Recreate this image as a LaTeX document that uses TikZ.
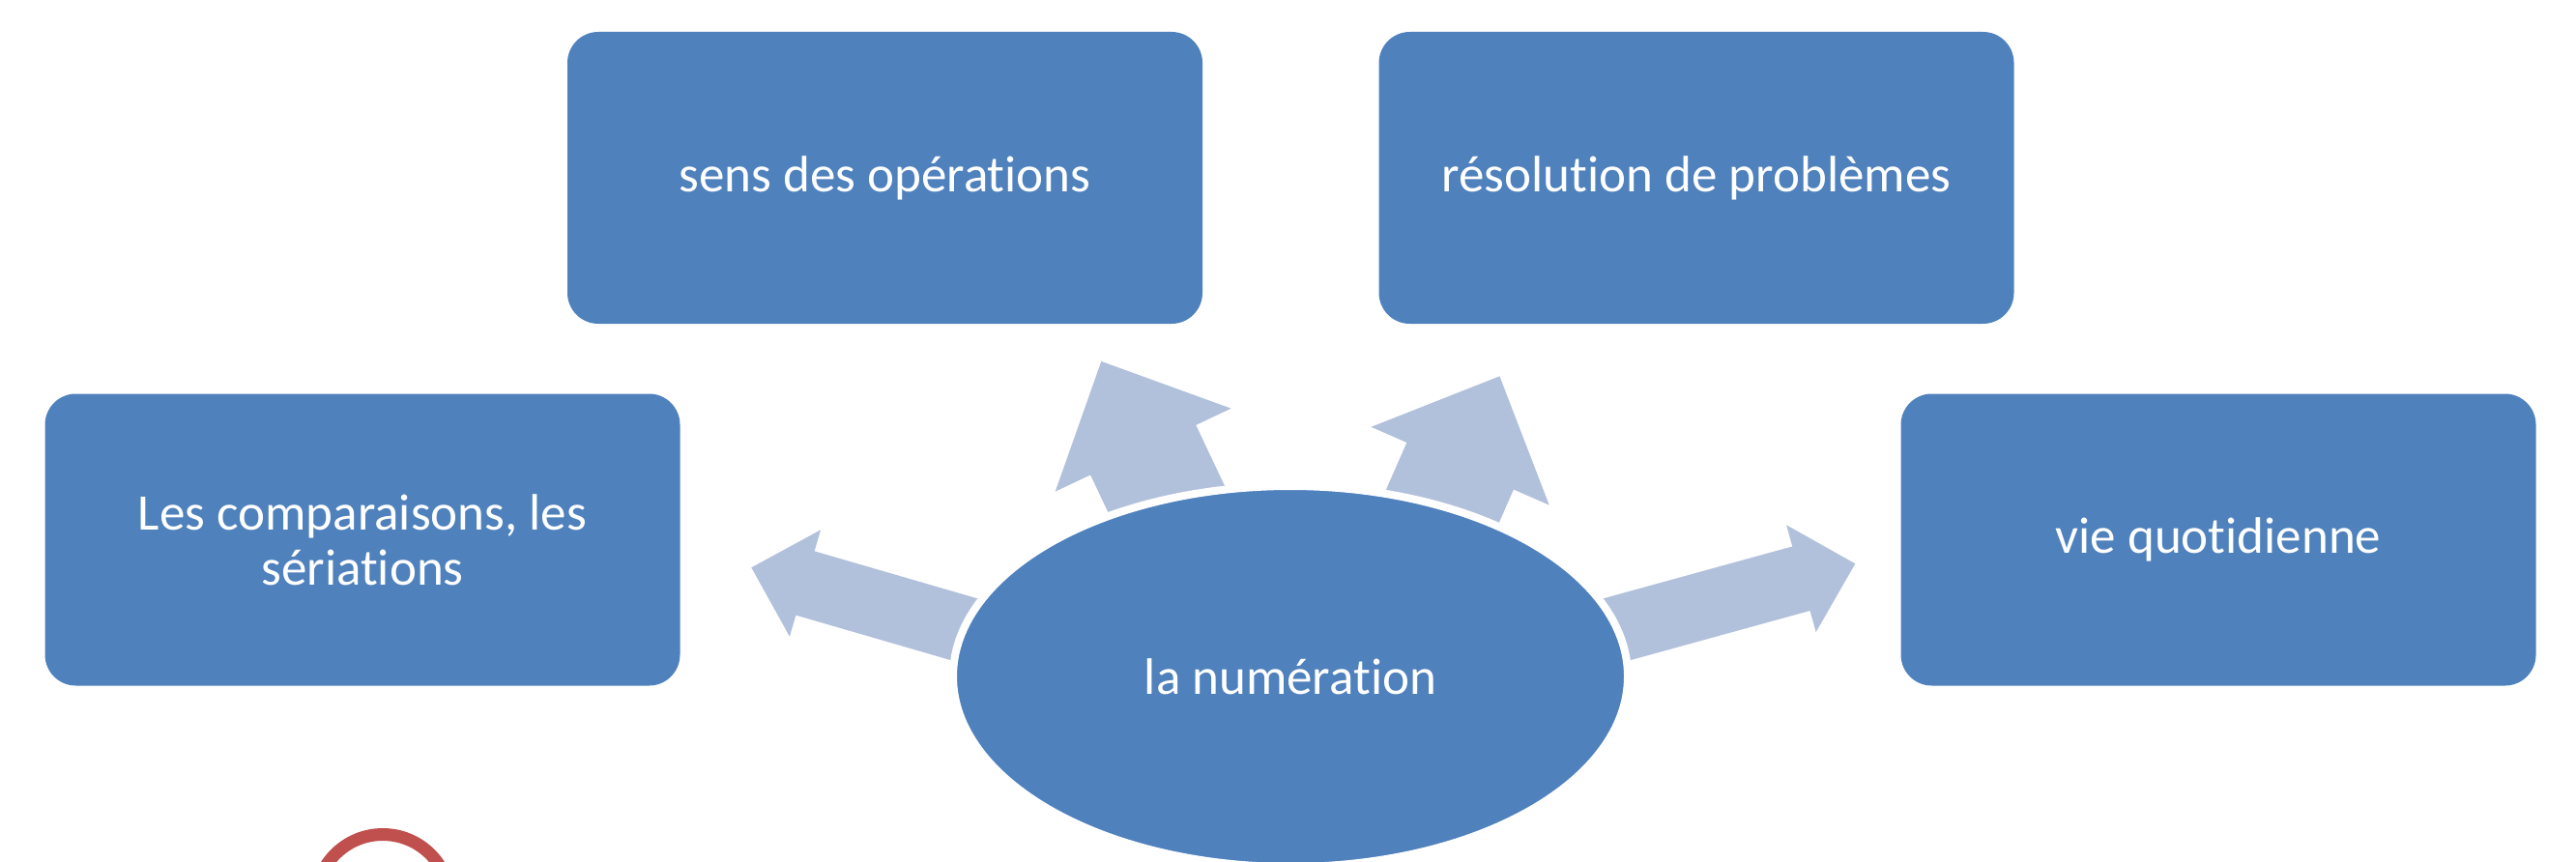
\documentclass[tikz,border=0pt]{standalone}
\usepackage{fontspec}
\setmainfont{Carlito}[Ligatures=NoCommon]
\usetikzlibrary{shapes.geometric}
\definecolor{boxblue}{HTML}{4F81BD}
\definecolor{arrowblue}{HTML}{B2C1DB}
\definecolor{ringred}{HTML}{C0504D}

\begin{document}
\begin{tikzpicture}
  \tikzset{topic/.style = {shape=rectangle, fill=boxblue, text=white, align=center,
      minimum width=6.57cm, minimum height=3.02cm, rounded corners=0.32cm,
      font=\fontsize{15.1}{16.2}\selectfont}}
  \tikzset{hub/.style = {shape=ellipse, fill=boxblue, draw=white, line width=0.08cm,
      text=white, inner sep=0pt, minimum width=6.98cm, minimum height=3.94cm,
      font=\fontsize{15.1}{16.2}\selectfont}}
  \tikzset{ring/.style = {shape=circle, draw=ringred, line width=0.13cm,
      inner sep=0pt, minimum size=1.39cm}}
  \tikzset{pics/fatarrow/.style = {code={
      \fill[arrowblue] (0,0) -- (-0.58,0.575) -- (-0.58,0.345) -- (-#1,0.345)
        -- (-#1,-0.345) -- (-0.58,-0.345) -- (-0.58,-0.575) -- cycle;}}}

  \clip (0,0) rectangle (26.65,8.91);

  % arrow tips
  \coordinate (tl) at (7.773, 3.037);
  \coordinate (tu) at (11.393, 5.171);
  \coordinate (tv) at (15.514, 5.017);
  \coordinate (tr) at (19.193, 3.077);

  \pic[shift={(tl)}, rotate=163.8] {fatarrow=2.8};
  \pic[shift={(tu)}, rotate=115.3, scale=1.75] {fatarrow=1.3};
  \pic[shift={(tv)}, rotate=66.3, scale=1.75] {fatarrow=1.3};
  \pic[shift={(tr)}, rotate=15.4] {fatarrow=2.9};

  \node[hub] (num) at (13.35, 1.91) {la numération};

  \node[topic] (sens) at (9.155, 7.07) {sens des opérations};
  \node[topic] (reso) at (17.55, 7.07) {résolution de problèmes};
  \node[topic] (comp) at (3.75, 3.325) {Les comparaisons, les\\sériations};
  \node[topic] (vie) at (22.95, 3.325) {vie quotidienne};

  \node[ring] (mark) at (3.96, -0.42) {};
\end{tikzpicture}
\end{document}
